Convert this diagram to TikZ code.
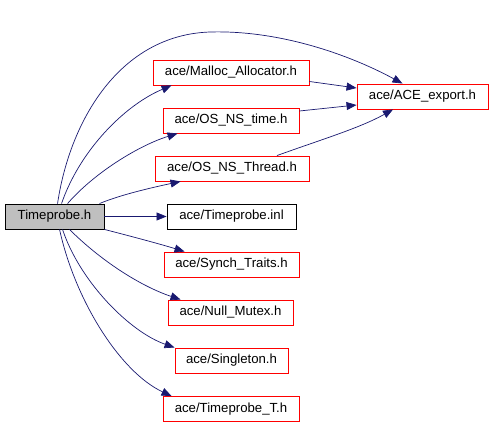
\documentclass[tikz,border=0pt]{standalone}
\usepackage{fontspec}
\setmainfont{Liberation Sans}
\usetikzlibrary{arrows.meta}
\definecolor{edgeblue}{RGB}{25,25,112}
\definecolor{hdrgray}{RGB}{191,191,191}
\tikzset{
  box/.style={draw=red, line width=0.9pt, rectangle, inner sep=0pt, minimum height=25pt, font=\fontsize{13.2}{15}\selectfont},
  rootbox/.style={box, draw=black, fill=hdrgray},
  plainbox/.style={box, draw=black},
  dep/.style={draw=edgeblue, line width=0.7pt, -{Triangle[length=10pt,width=8pt]}},
}
\begin{document}
\begin{tikzpicture}[x=1pt,y=-1pt]
\useasboundingbox (0,0) rectangle (493,425);
\node[rootbox, minimum width=99pt] (tp) at (54.5,216.5) {Timeprobe.h};
\node[box, minimum width=156pt] (mal) at (231,72.5) {ace/Malloc\_Allocator.h};
\node[box, minimum width=136pt] (ost) at (231,120.5) {ace/OS\_NS\_time.h};
\node[box, minimum width=154pt] (osth) at (232,168.5) {ace/OS\_NS\_Thread.h};
\node[box, minimum width=131pt] (ex) at (422.5,96.5) {ace/ACE\_export.h};
\node[plainbox, minimum width=129pt] (inl) at (231.5,216.5) {ace/Timeprobe.inl};
\node[box, minimum width=135pt] (syn) at (231.5,264.5) {ace/Synch\_Traits.h};
\node[box, minimum width=125pt] (nul) at (230.5,312.5) {ace/Null\_Mutex.h};
\node[box, minimum width=113pt] (sing) at (231.5,360.5) {ace/Singleton.h};
\node[box, minimum width=136pt] (tpt) at (231,409) {ace/Timeprobe\_T.h};

% edges
\draw[dep] ([xshift=53pt]tp.north west) .. controls (70,120) and (120,35) .. (210,32)
  .. controls (280,30) and (350,55) .. ([xshift=-20pt]ex.north);
\draw[dep] ([xshift=57pt]tp.north west) .. controls (80,150) and (125,105) .. ([xshift=19pt]mal.south west);
\draw[dep] ([xshift=63pt]tp.north west) .. controls (95,172) and (140,145) .. ([xshift=15pt]ost.south west);
\draw[dep] ([xshift=95pt]tp.north west) .. controls (120,195) and (150,188) .. ([xshift=26pt]osth.south west);
\draw[dep] (tp.east) -- (inl.west);
\draw[dep] (tp.south east) .. controls (130,236) and (160,244) .. ([xshift=21pt]syn.north west);
\draw[dep] ([xshift=65pt]tp.south west) .. controls (100,260) and (140,286) .. ([xshift=13pt]nul.north west);
\draw[dep] ([xshift=58pt]tp.south west) .. controls (80,282) and (130,332) .. ([xshift=0pt]sing.north west);
\draw[dep] ([xshift=55pt]tp.south west) .. controls (75,300) and (120,372) .. ([xshift=9pt]tpt.north west);
\draw[dep] ([yshift=-9pt]mal.east) -- ([yshift=8.5pt]ex.west);
\draw[dep] ([yshift=9.5pt]ost.east) -- ([yshift=-8.5pt]ex.west);
\draw[dep] ([xshift=45pt]osth.north) .. controls (320,140) and (360,128) .. ([xshift=-29.5pt]ex.south);
\end{tikzpicture}
\end{document}
